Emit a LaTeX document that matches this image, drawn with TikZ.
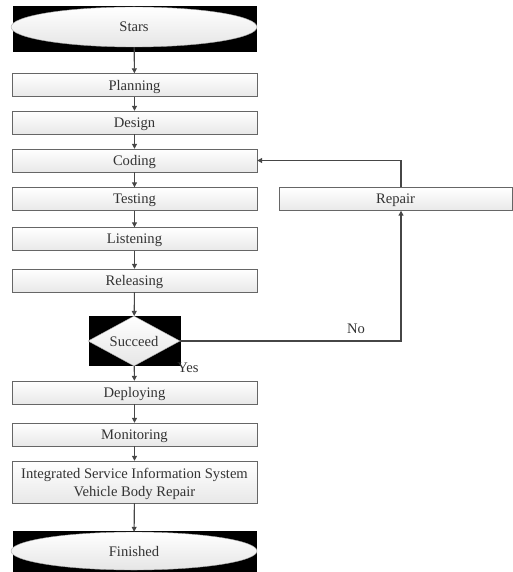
\documentclass[tikz,border=0pt]{standalone}
\usepackage{fontspec}
\setmainfont{Liberation Serif}
\usetikzlibrary{shapes.geometric,arrows.meta}
\begin{document}
\begin{tikzpicture}[x=1pt,y=-1pt,
  txt/.style={font=\fontsize{14.6}{18}\selectfont, text=black!80},
  proc/.style={txt, draw=gray!80!black, top color=white, bottom color=gray!18, minimum width=245pt, minimum height=23pt, inner sep=0pt, align=center, text depth=0pt},
  term/.style={txt, ellipse, draw=gray!70, top color=white, bottom color=gray!20, minimum width=246pt, minimum height=40pt, inner sep=0pt, text depth=0pt},
  dec/.style={txt, diamond, draw=gray!70, top color=white, bottom color=gray!20, minimum width=92pt, minimum height=50pt, aspect=1.84, inner sep=0pt, text depth=0pt},
  blk/.style={fill=black, draw=none, inner sep=0pt},
  conn/.style={draw=gray!55!black, line width=1.1pt, -{Triangle[length=5pt,width=5pt]}},
  lbl/.style={txt, inner sep=1pt}]
\useasboundingbox (0,0) rectangle (513,572);
% Stars
\node[blk, minimum width=244pt, minimum height=46pt] (starsbg) at (135,29) {};
\node[term] (stars) at (134,27) {Stars};
\node[proc] (plan) at (134.5,85) {Planning};
\node[proc] (design) at (134.5,122.5) {Design};
\node[proc] (coding) at (134.5,160.5) {Coding};
\node[proc] (testing) at (134.5,199) {Testing};
\node[proc] (listen) at (134.5,239) {Listening};
\node[proc] (release) at (134.5,280.5) {Releasing};
\node[blk, minimum width=92pt, minimum height=50pt] (decbg) at (135,341) {};
\node[dec] (succ) at (134,341) {Succeed};
\node[proc] (deploy) at (134.5,392.5) {Deploying};
\node[proc] (monitor) at (134.5,434.5) {Monitoring};
\node[proc, minimum height=42pt] (isis) at (134.5,482) {Integrated Service Information System\\Vehicle Body Repair};
\node[blk, minimum width=244pt, minimum height=42pt] (finbg) at (135,552) {};
\node[term, minimum height=38pt] (fin) at (134,551) {Finished};
\node[proc, minimum width=233pt] (repair) at (395.5,199) {Repair};
\coordinate (c1) at (401,341);
\coordinate (c2) at (401,160.5);
% connectors
\draw[conn] (stars) -- (plan);
\draw[conn] (plan) -- (design);
\draw[conn] (design) -- (coding);
\draw[conn] (coding) -- (testing);
\draw[conn] (testing) -- (listen);
\draw[conn] (listen) -- (release);
\draw[conn] (release) -- (succ);
\draw[conn] (succ) -- (deploy);
\draw[conn] (deploy) -- (monitor);
\draw[conn] (monitor) -- (isis);
\draw[conn] (isis) -- (fin);
\draw[conn] (succ.east) -- (c1) -- (repair.south -| c1);
\draw[conn] (repair.north -| c2) -- (c2) -- (coding.east);
\node[lbl] (no) at (356,329) {No};
\node[lbl] (yes) at (188,368) {Yes};
\end{tikzpicture}
\end{document}
